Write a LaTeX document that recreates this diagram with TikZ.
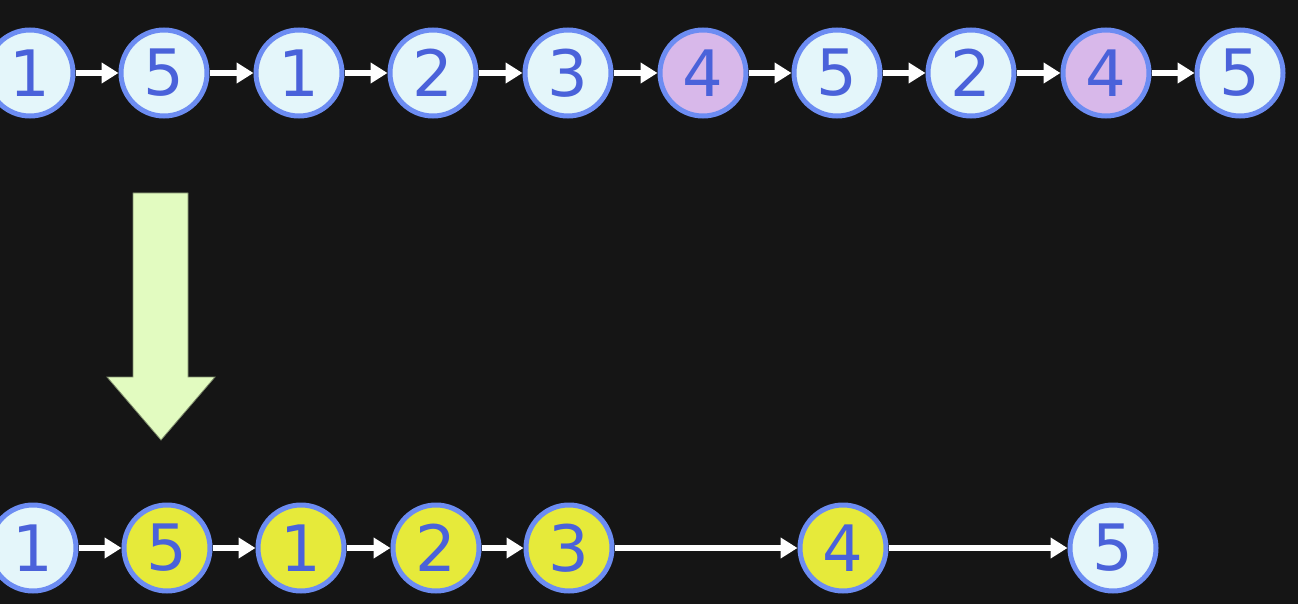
\documentclass[tikz,border=0pt]{standalone}
\usepackage{fontspec}
\setsansfont{DejaVu Sans}
\usetikzlibrary{arrows.meta}

\definecolor{bgdark}{HTML}{151515}
\definecolor{ringblue}{HTML}{6C8CF2}
\definecolor{digitblue}{HTML}{4A62DA}
\definecolor{paleblue}{HTML}{E4F6FA}
\definecolor{palepurple}{HTML}{D8B8EA}
\definecolor{hityellow}{HTML}{E6EA3A}
\definecolor{palegreen}{HTML}{E2FBC0}

\begin{document}
\begin{tikzpicture}[x=1pt,y=1pt,yscale=-1,xscale=1,
  page/.style={circle,draw=ringblue,line width=5pt,minimum size=86pt,inner sep=0pt,
    text=digitblue,font=\sffamily\fontsize{64}{64}\selectfont},
  plain/.style={page,fill=paleblue},
  miss/.style={page,fill=palepurple},
  kept/.style={page,fill=hityellow},
  link/.style={draw=white,line width=6.5pt,-{Triangle[width=20pt,length=17pt]}}]

%set diagram to the full frame
\fill[bgdark] (0,0) rectangle (1298,604);
\useasboundingbox (0,0) rectangle (1298,604);

% Top row
\node[plain] (t1) at (30,73) {1};
\node[plain] (t2) at (164,73) {5};
\node[plain] (t3) at (299,73) {1};
\node[plain] (t4) at (433,73) {2};
\node[plain] (t5) at (568,73) {3};
\node[miss] (t6) at (703,73) {4};
\node[plain] (t7) at (837,73) {5};
\node[plain] (t8) at (971,73) {2};
\node[miss] (t9) at (1106,73) {4};
\node[plain] (t10) at (1240,73) {5};

\draw[link] (t1) -- (t2);
\draw[link] (t2) -- (t3);
\draw[link] (t3) -- (t4);
\draw[link] (t4) -- (t5);
\draw[link] (t5) -- (t6);
\draw[link] (t6) -- (t7);
\draw[link] (t7) -- (t8);
\draw[link] (t8) -- (t9);
\draw[link] (t9) -- (t10);

%Shape: Down Arrow
\draw[fill=palegreen,draw=palegreen!55!black,line width=0.8pt]
  (133,193) -- (188,193) -- (188,377) -- (215,377) -- (161,440)
  -- (107,377) -- (133,377) -- cycle ;

% Bottom row
\node[plain] (b1) at (33,548) {1};
\node[kept] (b2) at (167,548) {5};
\node[kept] (b3) at (301,548) {1};
\node[kept] (b4) at (436,548) {2};
\node[kept] (b5) at (569,548) {3};
\node[kept] (b6) at (843,548) {4};
\node[plain] (b7) at (1113,548) {5};

\draw[link] (b1) -- (b2);
\draw[link] (b2) -- (b3);
\draw[link] (b3) -- (b4);
\draw[link] (b4) -- (b5);
\draw[link] (b5) -- (b6);
\draw[link] (b6) -- (b7);

\end{tikzpicture}
\end{document}
